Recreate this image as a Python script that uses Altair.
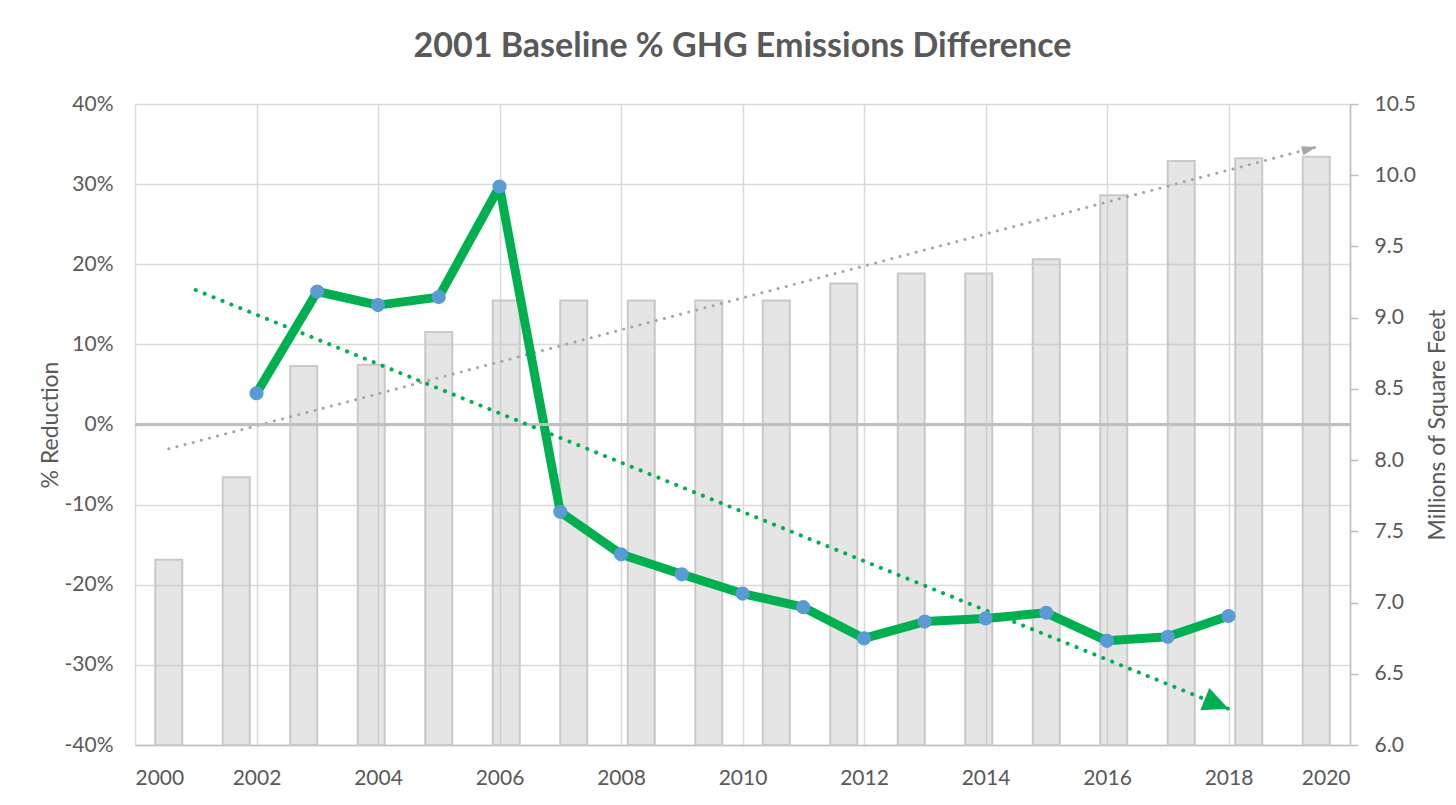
import math
import numpy as np
import pandas as pd
import altair as alt

# ---- data ----
line_years = list(range(2002, 2019))
pct_diff = [3.9, 16.6, 14.9, 15.9, 29.7, -10.9, -16.2, -18.7, -21.1, -22.8,
            -26.7, -24.6, -24.2, -23.5, -27.0, -26.5, -23.9]

bar_years = list(range(2001, 2019))
sqft = [7.30, 7.88, 8.66, 8.67, 8.90, 9.12, 9.12, 9.12, 9.12, 9.12,
        9.24, 9.31, 9.31, 9.41, 9.86, 10.10, 10.12, 10.13]

x_ticks = list(range(2000, 2021, 2))
pct_ticks = list(range(-40, 41, 10))
sqft_ticks = [6.0, 6.5, 7.0, 7.5, 8.0, 8.5, 9.0, 9.5, 10.0, 10.5]

line_df = pd.DataFrame({"year": line_years, "pct": pct_diff})
bar_df = pd.DataFrame({"bar_year": bar_years, "sqft": sqft})

# ---- layout ----
W, H = 1215, 641
FONT = "Lato"
TXT = "#595959"
GRID = "#d9d9d9"
AXIS = "#bfbfbf"
GREEN = "#00b050"
BLUE = "#5b9bd5"

# arrow head angles (pixel-space slope of each fitted trend)
g_slope = np.polyfit(line_years, pct_diff, 1)[0]
b_slope = np.polyfit(bar_years, sqft, 1)[0]
g_angle = math.degrees(math.atan(-g_slope * (H / 80) / (W / 20))) % 360
b_angle = math.degrees(math.atan(-b_slope * (H / 4.5) / (W / 18))) % 360

arrow_green = "M0,0L-2,-0.94L-2,0.94Z"
arrow_gray = "M0,0L-2,-0.65L-2,0.65Z"

# ---- bar (secondary) layer ----
bx = alt.X("bar_year:Q", scale=alt.Scale(domain=[2000.5, 2018.5], nice=False, zero=False), axis=None)
by = alt.Y(
    "sqft:Q",
    scale=alt.Scale(domain=[6.0, 10.5], nice=False, zero=False),
    axis=alt.Axis(
        orient="right", values=sqft_ticks, format=".1f", grid=False,
        domainColor=AXIS, domainWidth=1.5, ticks=True, tickColor=AXIS, tickWidth=1.5, tickSize=8,
        labelPadding=16, labelFontSize=21, labelFont=FONT, labelColor=TXT,
        title="Millions of Square Feet", titleFont=FONT, titleFontSize=23, titleFontWeight="normal",
        titleColor=TXT, titleAngle=270, titleX=87, titleY=H / 2, titleAlign="center", titleBaseline="middle",
    ),
)

bars = alt.Chart(bar_df).transform_calculate(
    x0="datum.bar_year - 0.2", x1="datum.bar_year + 0.2"
).mark_bar(
    fill="#bfbfbf", fillOpacity=0.4, stroke="#c9c9c9", strokeWidth=2
).encode(
    x=alt.X("x0:Q", scale=alt.Scale(domain=[2000.5, 2018.5], nice=False, zero=False), axis=None),
    x2="x1:Q",
    y=by,
    y2=alt.datum(6.0),
)

gray_trend = alt.Chart(bar_df).transform_regression(
    "bar_year", "sqft", extent=[2001, 2018]
).mark_line(
    color="#a6a6a6", strokeWidth=3, strokeDash=[0.1, 8.3], strokeCap="round"
).encode(x=bx, y="sqft:Q")

gray_arrow = alt.Chart(bar_df).transform_regression(
    "bar_year", "sqft", extent=[2001, 2018]
).transform_window(
    rn="row_number()", sort=[alt.SortField("bar_year", order="descending")]
).transform_filter("datum.rn == 1").mark_point(
    shape=arrow_gray, size=210, angle=b_angle, filled=True, fill="#a6a6a6", stroke=None, opacity=1
).encode(x=bx, y="sqft:Q")

layer_b = alt.layer(bars, gray_trend, gray_arrow)

# ---- primary layer ----
lx = alt.X(
    "year:Q",
    scale=alt.Scale(domain=[2000, 2020], nice=False, zero=False),
    axis=alt.Axis(
        values=x_ticks, format="d", grid=True, gridColor=GRID, gridWidth=1.5,
        domainColor=AXIS, domainWidth=1.5, ticks=False, labelPadding=22,
        labelFontSize=21, labelFont=FONT, labelColor=TXT, title=None,
    ),
)
ly = alt.Y(
    "pct:Q",
    scale=alt.Scale(domain=[-40, 40], nice=False, zero=False),
    axis=alt.Axis(
        orient="left", values=pct_ticks, labelExpr="datum.value + '%'", grid=True,
        gridColor=GRID, gridWidth=1.5, domain=False, ticks=False, labelPadding=22,
        labelFontSize=21, labelFont=FONT, labelColor=TXT,
        title="% Reduction", titleFont=FONT, titleFontSize=23, titleFontWeight="normal",
        titleColor=TXT, titleAngle=270, titleX=-85, titleY=H / 2, titleAlign="center", titleBaseline="middle",
    ),
)

zero_rule = alt.Chart(line_df).mark_rule(color=AXIS, strokeWidth=2).encode(y=alt.datum(0))

green_trend = alt.Chart(line_df).transform_regression(
    "year", "pct", extent=[2001, 2018]
).mark_line(
    color=GREEN, strokeWidth=4, strokeDash=[0.1, 9.5], strokeCap="round"
).encode(x=lx, y="pct:Q")

green_arrow = alt.Chart(line_df).transform_regression(
    "year", "pct", extent=[2001, 2018]
).transform_window(
    rn="row_number()", sort=[alt.SortField("year", order="descending")]
).transform_filter("datum.rn == 1").mark_point(
    shape=arrow_green, size=655, angle=g_angle, filled=True, fill=GREEN, stroke=None, opacity=1
).encode(x=lx, y="pct:Q")

main_line = alt.Chart(line_df).mark_line(
    color=GREEN, strokeWidth=9, strokeJoin="round", strokeCap="round"
).encode(x=lx, y=ly)

dots = alt.Chart(line_df).mark_point(
    filled=True, fill=BLUE, size=200, opacity=1, stroke=None
).encode(x=lx, y=ly)

layer_a = alt.layer(main_line, zero_rule, green_trend, green_arrow, dots)

chart = alt.layer(layer_b, layer_a).resolve_scale(
    x="independent", y="independent"
).properties(
    width=W, height=H,
    autosize=alt.AutoSizeParams(type="none"),
    padding={"left": 127, "top": 96, "right": 98, "bottom": 52},
    title=alt.TitleParams(
        "2001 Baseline % GHG Emissions Difference", font=FONT, fontSize=34,
        fontWeight="bold", color=TXT, anchor="middle", baseline="alphabetic", offset=2,
    ),
).configure_view(stroke=None).configure(background="white")

chart.save("out.html", embed_options={"renderer": "svg", "actions": False})
